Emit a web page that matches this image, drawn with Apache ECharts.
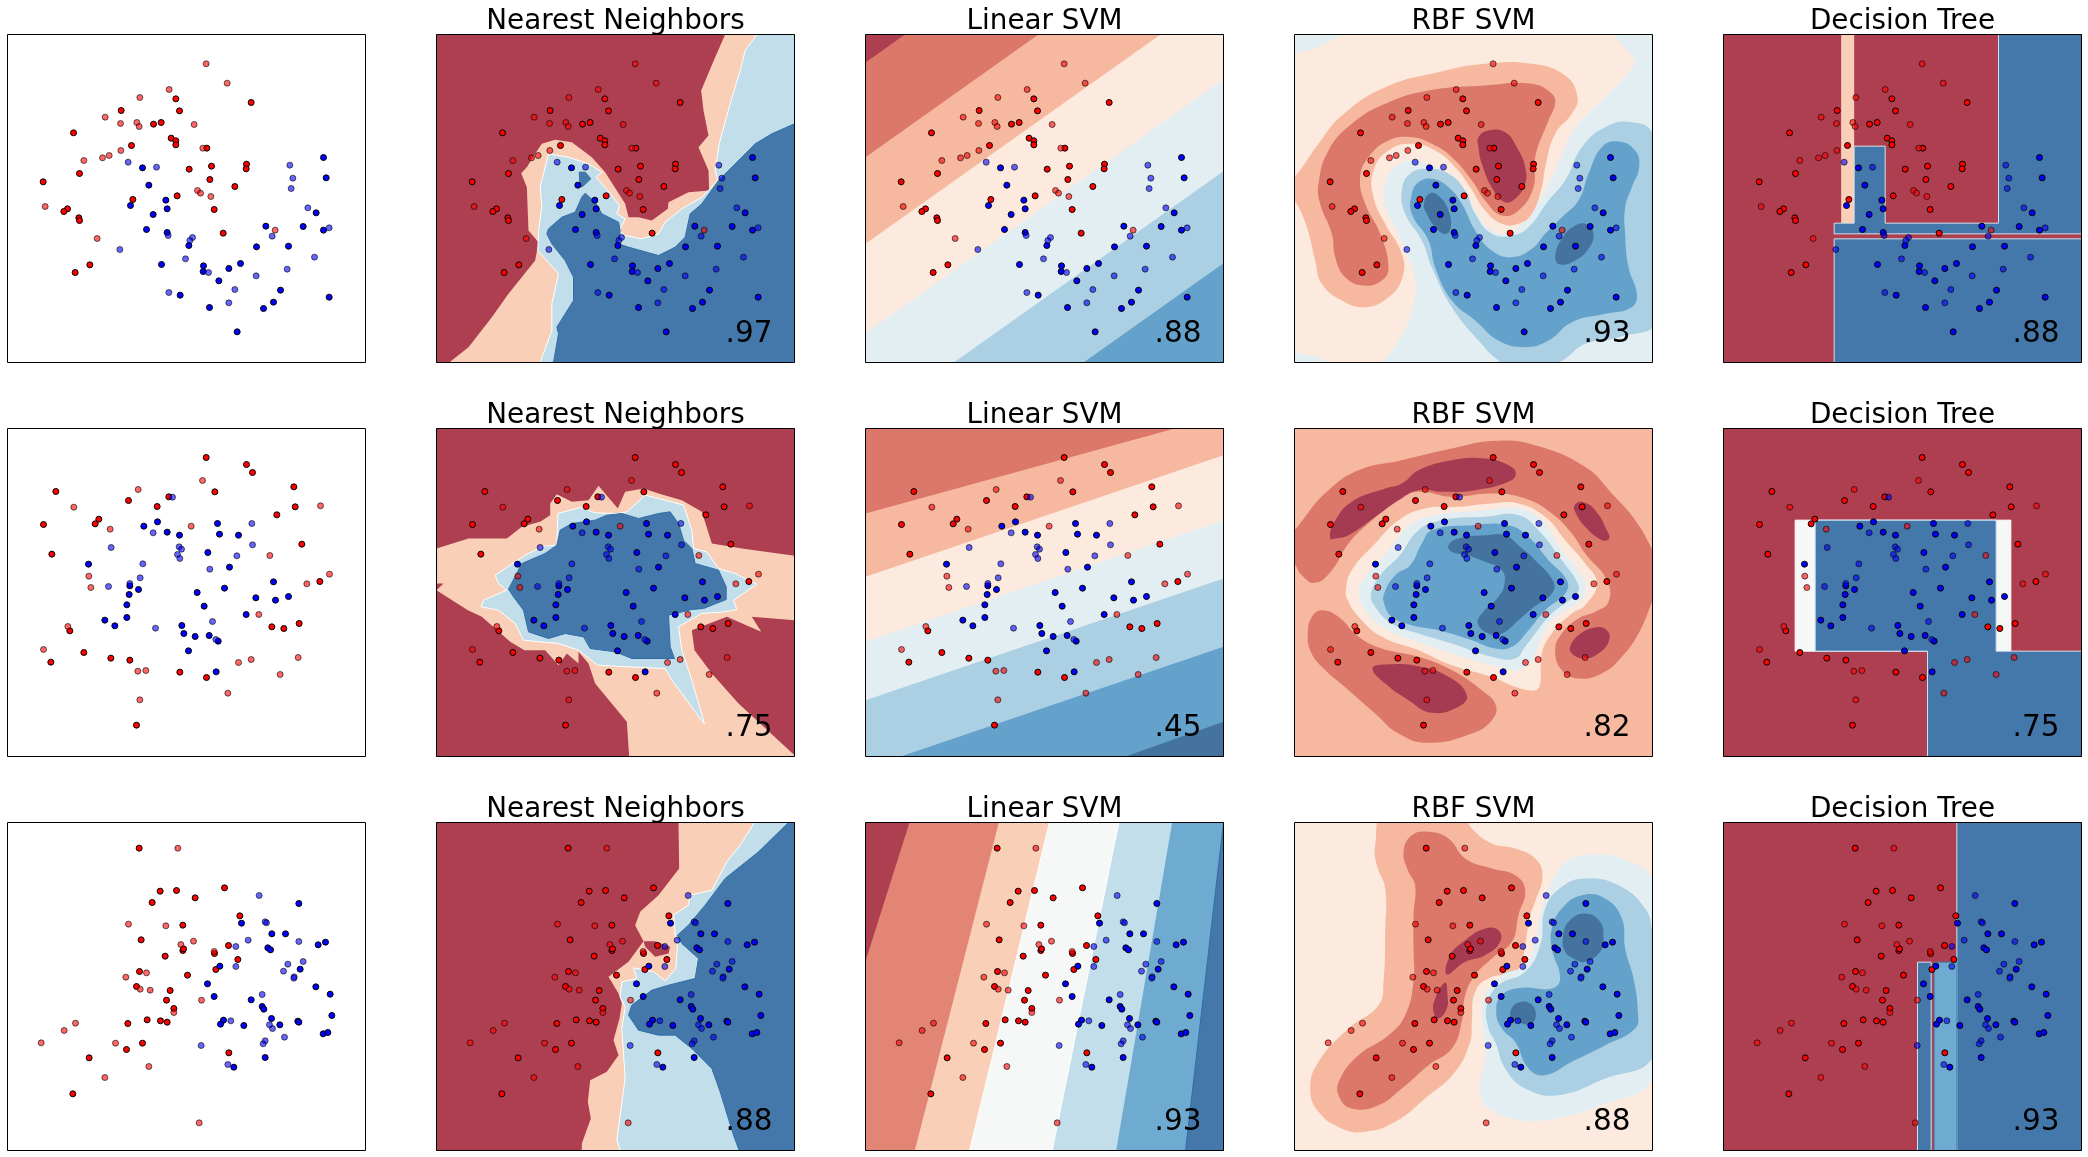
<!DOCTYPE html>
<html lang="en">
<head>
<meta charset="utf-8" />
<title>Classifier comparison</title>
<style>
  html, body { margin: 0; background: #fff; }
  #chart { width: 2088px; height: 1157px; }
</style>
</head>
<body>
<div id="chart"></div>
<script src="https://cdn.jsdelivr.net/npm/echarts@6/dist/echarts.min.js"></script>
<script>
const titles = ["Nearest Neighbors", "Linear SVM", "RBF SVM", "Decision Tree"];
const scores = [
  [".97", ".88", ".93", ".88"],
  [".75", ".45", ".82", ".75"],
  [".88", ".93", ".88", ".93"]
];

const redTrain = [
  [[505,193],[516,229],[731,204],[341,228],[438,269],[461,264],[198,295],[491,311],[505,319],[505,331],[372,333],[598,341],[717,389],[716,403],[612,395],[545,404],[216,417],[107,442],[607,435],[682,456],[509,484],[376,495],[180,523],[169,531],[620,525],[214,550],[216,558],[647,596],[247,691],[203,714]],
  [[596,87],[717,108],[735,132],[145,189],[859,175],[863,235],[622,190],[363,216],[484,205],[449,234],[808,259],[274,272],[263,286],[108,288],[883,347],[133,377],[937,459],[793,595],[829,600],[875,585],[187,607],[229,672],[310,689],[367,695],[130,701],[517,731],[597,747],[387,890]],
  [[395,77],[458,206],[507,204],[563,226],[651,196],[434,240],[697,280],[526,308],[401,352],[663,369],[526,384],[621,393],[473,401],[691,411],[625,441],[396,447],[540,458],[387,492],[488,504],[477,533],[499,558],[419,592],[459,595],[479,599],[361,603],[405,662],[357,681],[664,691],[245,706],[196,814],[528,379]]
];
const redTest = [
  [[596,88],[659,146],[485,165],[397,189],[293,248],[339,267],[388,264],[395,276],[560,270],[586,341],[340,348],[305,363],[285,370],[229,378],[570,468],[579,476],[610,486],[113,516],[269,612],[803,587]],
  [[585,156],[392,183],[199,236],[939,232],[308,302],[551,293],[787,381],[966,437],[898,466],[244,443],[250,477],[754,558],[181,594],[108,663],[693,702],[731,693],[872,687],[391,728],[415,726],[818,738],[661,794],[397,814]],
  [[511,77],[363,305],[475,310],[558,356],[520,366],[620,387],[417,451],[355,464],[398,500],[428,503],[582,533],[499,570],[204,602],[170,624],[101,661],[324,662],[424,732],[292,765],[575,901]]
];
const blueTrain = [
  [[948,369],[956,430],[405,400],[424,452],[475,497],[479,523],[369,513],[437,540],[926,535],[887,576],[948,587],[775,575],[417,585],[479,594],[544,633],[747,637],[843,635],[462,690],[699,687],[664,702],[588,694],[587,711],[634,739],[819,767],[518,782],[965,788],[798,803],[768,822],[606,819],[689,892]],
  [[409,293],[450,280],[479,311],[516,320],[630,285],[636,317],[693,320],[601,372],[243,407],[666,416],[798,460],[651,479],[569,492],[367,472],[393,483],[365,498],[358,529],[590,533],[745,508],[804,515],[843,504],[716,558],[358,567],[292,575],[322,592],[523,591],[529,615],[563,624],[605,621],[632,638],[543,667],[626,730]],
  [[874,243],[702,302],[793,334],[834,334],[932,367],[954,359],[781,376],[789,382],[637,431],[878,440],[600,484],[925,493],[620,522],[968,515],[731,532],[764,552],[769,560],[973,579],[792,588],[648,593],[639,605],[709,609],[817,607],[871,596],[874,599],[947,634],[961,630],[773,705],[679,734]]
];
const blueTest = [
  [[362,383],[447,398],[847,392],[856,431],[851,462],[901,520],[965,580],[482,603],[555,609],[547,618],[794,605],[337,645],[534,673],[921,668],[839,704],[603,714],[746,724],[682,765],[484,774],[664,805]],
  [[495,206],[437,313],[733,285],[311,357],[515,355],[522,362],[510,378],[517,390],[735,349],[688,382],[406,406],[607,422],[398,448],[367,465],[303,474],[615,579],[444,599],[625,633]],
  [[755,219],[773,298],[777,301],[722,353],[874,357],[685,372],[887,417],[841,425],[685,432],[828,446],[860,463],[859,467],[764,516],[670,595],[786,607],[795,618],[831,644],[773,655],[767,664],[581,669],[661,726]]
];

// decision regions, painted one over the other: [level, outline]
const whole = [[-20,-20],[1094,-20],[1094,1004],[-20,1004]];

const nnRegions1 = [
  ["red", whole],
  ["peach", [[866,0],[836,68],[794,168],[801,228],[816,303],[786,338],[816,408],[818,468],[756,473],[696,503],[694,523],[646,558],[606,548],[576,548],[566,508],[506,413],[466,368],[406,323],[356,316],[316,328],[296,358],[271,398],[254,416],[271,458],[276,588],[306,623],[296,678],[216,778],[166,848],[96,938],[38,984],[1074,984],[1074,0]]],
  ["sky", [[311,984],[346,888],[346,808],[366,718],[326,673],[304,648],[306,588],[316,518],[311,458],[336,358],[396,368],[456,388],[496,413],[479,428],[526,483],[549,513],[541,538],[566,553],[548,588],[566,603],[616,613],[666,598],[686,563],[736,523],[796,488],[844,438],[836,408],[848,328],[881,208],[911,108],[926,48],[961,0],[1074,0],[1074,984]]],
  ["blue", [[351,984],[366,898],[361,878],[411,798],[411,728],[386,678],[346,628],[331,598],[336,583],[376,548],[416,533],[436,488],[446,476],[476,503],[496,538],[546,563],[551,588],[546,628],[576,638],[666,663],[716,638],[746,608],[761,538],[796,508],[846,438],[956,328],[1006,298],[1074,268],[1074,984]]],
  ["blue", [[428,413],[446,413],[463,433],[436,458],[431,453]]]
];
const nnRegions2 = [
  ["red", whole],
  ["peach", [[0,360],[96,330],[211,330],[256,295],[311,280],[341,260],[341,225],[361,197],[406,220],[456,215],[486,172],[544,240],[566,190],[621,180],[666,195],[736,215],[796,250],[826,345],[916,360],[1074,382],[1074,575],[946,565],[974,610],[871,565],[766,605],[774,665],[826,735],[906,825],[1074,980],[1074,984],[578,984],[571,880],[476,765],[456,705],[426,670],[426,705],[391,675],[366,710],[326,665],[264,665],[221,640],[136,565],[94,545],[0,485],[21,465],[0,465]]],
  ["sky", [[176,440],[266,380],[321,353],[361,350],[364,255],[431,237],[476,253],[544,255],[571,250],[626,200],[686,215],[741,230],[766,305],[771,360],[811,370],[846,420],[896,435],[961,467],[891,515],[901,543],[866,550],[796,555],[726,595],[736,665],[766,755],[804,887],[706,755],[686,720],[571,715],[484,710],[426,665],[366,645],[311,640],[261,635],[236,585],[186,545],[134,535],[141,515],[211,485],[186,465]]],
  ["blue", [[216,482],[256,405],[326,375],[361,350],[371,305],[406,285],[476,275],[511,260],[556,255],[606,270],[666,255],[701,250],[726,285],[741,335],[766,360],[776,405],[846,425],[869,475],[869,513],[801,540],[766,543],[696,560],[701,655],[714,690],[586,690],[536,670],[461,660],[441,625],[386,615],[336,630],[276,610],[261,545],[231,505]]]
];
const nnRegions3 = [
  ["red", whole],
  ["peach", [[726,0],[728,138],[666,218],[611,268],[596,308],[621,356],[576,418],[516,463],[546,513],[556,543],[549,588],[531,653],[546,698],[511,748],[461,773],[454,838],[463,888],[436,963],[436,984],[1074,984],[1074,0]]],
  ["red", [[621,356],[656,356],[701,373],[696,393],[656,403],[626,373]]],
  ["sky", [[954,0],[911,68],[871,118],[826,203],[761,218],[756,248],[711,278],[716,338],[723,368],[718,438],[686,475],[651,448],[591,436],[601,468],[556,478],[551,523],[566,553],[556,618],[566,768],[541,953],[551,984],[1074,984],[1074,0]]],
  ["blue", [[1056,0],[966,88],[866,168],[806,248],[756,308],[723,338],[736,363],[786,408],[776,468],[696,488],[646,503],[586,548],[576,578],[606,623],[666,638],[716,638],[766,678],[826,738],[851,808],[891,938],[908,984],[1074,984],[1074,0]]]
];

const linearRegions1 = [
  ["red", whole],
  ["r3", [[0,84],[1074,-678],[1074,1400],[0,1400]]],
  ["r2", [[0,368],[1074,-394],[1074,1400],[0,1400]]],
  ["r1", [[0,628],[1074,-134],[1074,1400],[0,1400]]],
  ["b1", [[0,896],[1074,134],[1074,1400],[0,1400]]],
  ["b2", [[0,1172],[1074,410],[1074,1600],[0,1600]]],
  ["b3", [[0,1448],[1074,686],[1074,1800],[0,1800]]]
];
const linearRegions2 = [
  ["r3", whole],
  ["r2", [[0,255],[1074,-40],[1074,1400],[0,1400]]],
  ["r1", [[0,445],[1074,80],[1074,1400],[0,1400]]],
  ["b1", [[0,640],[1074,275],[1074,1400],[0,1400]]],
  ["b2", [[0,815],[1074,450],[1074,1400],[0,1400]]],
  ["b3", [[0,1020],[1074,655],[1074,1400],[0,1400]]],
  ["b4", [[0,1260],[1074,880],[1074,1400],[0,1400]]]
];
const linearRegions3 = [
  ["red", whole],
  ["r3soft", [[132,0],[-180,984],[1400,984],[1400,0]]],
  ["peach", [[400,0],[148,984],[1400,984],[1400,0]]],
  ["white", [[552,0],[312,984],[1400,984],[1400,0]]],
  ["sky", [[760,0],[560,984],[1400,984],[1400,0]]],
  ["b3soft", [[920,0],[752,984],[1400,984],[1400,0]]],
  ["blue", [[1074,0],[960,984],[1400,984],[1400,0]]]
];

const rbfRegions1 = [
  ["b1", whole],
  ["r1", [[0,73],[72,38],[137,3],[200,-40],[960,-40],[962,0],[1019,78],[1007,108],[932,188],[852,268],[812,338],[772,428],[722,518],[672,578],[647,598],[592,588],[542,528],[502,458],[462,418],[402,388],[342,378],[292,408],[270,458],[272,518],[307,588],[332,648],[360,728],[352,828],[312,918],[262,978],[200,990],[122,990],[72,968],[0,938],[-40,500]]],
  ["r2", [[0,428],[72,328],[142,243],[272,158],[432,113],[572,88],[712,88],[812,123],[849,188],[832,238],[782,298],[752,398],[742,458],[712,538],[672,568],[622,568],[572,528],[527,458],[482,398],[422,348],[352,328],[282,348],[237,408],[237,488],[272,568],[322,658],[324,728],[282,788],[212,818],[142,798],[82,748],[62,678],[37,578],[0,498],[-40,460]]],
  ["r3", [[72,448],[102,348],[172,268],[272,208],[402,168],[572,153],[712,148],[772,178],[782,208],[762,258],[722,368],[717,458],[672,528],[622,543],[572,498],[532,438],[472,368],[412,328],[352,308],[282,318],[222,368],[197,428],[212,508],[257,598],[282,698],[262,738],[207,753],[152,728],[122,668],[112,598],[77,508]]],
  ["r4", [[552,308],[582,288],[632,293],[667,338],[692,398],[692,448],[662,493],[632,503],[597,468],[562,388],[552,338]]],
  ["b2", [[1074,298],[1012,263],[932,278],[862,338],[812,438],[762,498],[702,578],[652,603],[592,598],[542,538],[512,468],[462,418],[402,403],[347,418],[322,468],[332,538],[382,618],[412,698],[472,818],[552,918],[612,978],[672,1010],[792,984],[872,928],[972,908],[1090,860],[1120,600]]],
  ["b3", [[922,338],[972,321],[1022,348],[1034,398],[1012,458],[992,518],[992,598],[1002,698],[1027,778],[1012,818],[932,838],[832,863],[762,918],[692,938],[612,918],[542,858],[472,798],[422,698],[402,618],[352,538],[352,478],[372,443],[412,433],[462,458],[502,508],[542,588],[592,648],[652,668],[712,643],[752,598],[802,548],[852,498],[882,418]]],
  ["b4", [[388,508],[407,476],[437,488],[462,528],[469,578],[452,598],[422,578],[397,538]]],
  ["b4", [[782,668],[802,613],[842,573],[877,570],[897,598],[882,643],[842,678],[797,690]]]
];
const rbfRegions2 = [
  ["r2", whole],
  ["r3", [[-28,365],[32,265],[102,185],[192,125],[322,95],[472,60],[602,37],[722,50],[872,115],[952,195],[1022,275],[1074,365],[1102,435],[1074,515],[1032,615],[982,685],[922,735],[852,750],[802,725],[782,665],[802,615],[852,570],[902,550],[942,520],[937,455],[872,375],[832,315],[772,255],[692,210],[592,195],[472,205],[372,190],[312,215],[222,285],[162,345],[112,425],[62,463],[22,440],[0,405]]],
  ["r3", [[40,615],[52,565],[82,545],[132,565],[192,625],[262,660],[372,685],[472,725],[562,785],[604,830],[592,875],[532,915],[402,943],[312,915],[242,855],[162,785],[82,715],[47,665]]],
  ["r4", [[107,330],[117,285],[172,220],[272,180],[322,165],[372,125],[472,95],[572,90],[642,110],[664,135],[642,160],[542,185],[442,190],[372,185],[312,215],[242,265],[162,320],[122,330]]],
  ["r4", [[840,230],[862,220],[902,245],[937,305],[944,330],[922,335],[872,295],[842,250]]],
  ["r4", [[827,655],[852,620],[902,597],[937,605],[944,635],[912,675],[867,690],[832,675]]],
  ["r4", [[234,720],[272,708],[372,713],[462,745],[517,800],[492,835],[412,853],[342,815],[272,765]]],
  ["r1", [[154,485],[172,425],[242,345],[312,275],[392,240],[492,235],[592,225],[672,225],[752,265],[812,335],[872,405],[907,465],[872,530],[832,555],[772,615],[742,675],[737,765],[722,785],[662,775],[592,745],[472,710],[372,665],[262,625],[192,565],[162,520]]],
  ["b1", [[194,485],[212,445],[282,365],[352,285],[422,260],[572,245],[672,240],[742,275],[802,365],[852,425],[875,485],[852,520],[772,575],[742,625],[712,695],[672,725],[612,715],[472,675],[372,640],[282,605],[212,545]]],
  ["b2", [[230,495],[262,435],[312,385],[372,305],[442,275],[572,265],[672,260],[732,305],[802,395],[850,465],[847,495],[772,555],[722,615],[692,655],[662,690],[592,685],[472,645],[372,615],[292,585],[242,535]]],
  ["b3", [[269,495],[302,440],[347,410],[382,345],[412,305],[532,290],[642,290],[702,325],[762,395],[817,455],[812,495],[752,545],[702,605],[652,655],[602,660],[532,635],[432,605],[352,590],[292,565],[269,525]]],
  ["b4", [[462,350],[492,330],[572,320],[632,320],[672,350],[722,395],[777,460],[772,495],[712,540],[672,575],[622,615],[582,615],[550,585],[562,555],[612,505],[630,465],[622,425],[572,400],[517,380],[472,370]]]
];
const rbfRegions3 = [
  ["r1", whole],
  ["r2", [[272,-30],[242,68],[247,128],[272,198],[272,328],[267,478],[252,548],[162,618],[72,718],[47,798],[72,868],[142,918],[212,928],[302,898],[392,828],[482,748],[527,658],[532,598],[542,508],[582,468],[662,448],[682,418],[692,368],[707,278],[722,238],[744,158],[722,108],[662,78],[592,63],[532,18],[500,-30]]],
  ["r3", [[327,88],[352,38],[402,28],[462,48],[512,108],[592,138],[662,158],[692,203],[672,278],[652,358],[592,408],[542,458],[512,518],[502,598],[472,678],[402,728],[322,798],[252,848],[172,858],[132,818],[137,768],[192,698],[282,638],[332,578],[357,478],[357,378],[357,278],[362,188],[342,148]]],
  ["r4", [[457,456],[467,398],[512,353],[572,318],[612,323],[617,358],[572,398],[512,418]]],
  ["r4", [[417,568],[422,528],[452,480],[459,518],[457,558],[432,588]]],
  ["b1", [[555,798],[572,698],[562,578],[572,518],[622,458],[692,428],[722,358],[742,258],[782,158],[832,108],[902,96],[982,108],[1074,173],[1120,480],[1074,768],[922,848],[752,893],[652,888],[572,848]]],
  ["b2", [[582,618],[577,548],[612,488],[692,448],[737,368],[752,258],[802,193],[872,168],[972,188],[1052,258],[1074,328],[1110,520],[1074,708],[932,768],[792,818],[692,798],[632,738],[602,658]]],
  ["b3", [[605,568],[622,518],[682,496],[772,498],[797,468],[772,378],[772,318],[802,258],[862,218],[932,228],[982,288],[992,378],[1017,468],[1030,568],[1022,618],[932,668],[832,718],[752,758],[702,738],[662,658],[622,618]]],
  ["b4", [[805,348],[822,298],[872,273],[917,298],[927,348],[917,388],[872,418],[837,408],[812,388]]],
  ["b4", [[649,563],[672,540],[707,543],[724,573],[712,603],[682,603],[652,588]]]
];

const treeRegions1 = [
  ["red", whole],
  ["peach", [[353,-20],[392,-20],[392,566],[353,566]]],
  ["tree", [[825,-20],[1100,-20],[1100,598],[332,598],[332,566],[392,566],[392,335],[485,335],[485,566],[825,566]]],
  ["tree", [[332,613],[1100,613],[1100,1010],[332,1010]]]
];
const treeRegions2 = [
  ["red", whole],
  ["white", [[215,275],[862,275],[862,668],[215,668]]],
  ["tree", [[275,275],[818,275],[818,668],[1100,668],[1100,1010],[612,1010],[612,668],[275,668]]]
];
const treeRegions3 = [
  ["red", whole],
  ["tree", [[700,-20],[1100,-20],[1100,1010],[700,1010]]],
  ["tree", [[582,419],[623,419],[623,1010],[582,1010]]],
  ["treeMid", [[632,419],[700,419],[700,1010],[632,1010]]]
];

const regionRows = [
  [nnRegions1, linearRegions1, rbfRegions1, treeRegions1],
  [nnRegions2, linearRegions2, rbfRegions2, treeRegions2],
  [nnRegions3, linearRegions3, rbfRegions3, treeRegions3]
];

const levelFill = {
  red: "#ae3f51", r4: "#a53b53", r3: "#db7869", r3soft: "#e28574", r2: "#f6b9a0",
  peach: "#f9cfb8", r1: "#fceadf", white: "#f6f8f8", b1: "#e3eef3", sky: "#c2deea",
  b2: "#abd0e3", b3: "#64a2cb", b3soft: "#6fabd1", b4: "#45739f", blue: "#4478ab",
  tree: "#4478ab", treeMid: "#6fabd1"
};
// thin seams that the filled contours leave between levels
const levelEdge = { sky: "#ffffff", blue: "#2f6fa8", tree: "#cfe3ee", treeMid: "#3f82b5", white: "#fff" };

const panelW = 1074, panelH = 984;
const gridW = 358, gridH = 328;
const gridLeft = c => 7.5 + 429 * c;
const gridTop = r => 34.5 + 394 * r;

const chartTitles = [], grids = [], xAxes = [], yAxes = [], series = [];

function regionSeries(layers, idx, smooth) {
  return {
    type: "custom", xAxisIndex: idx, yAxisIndex: idx, clip: true, silent: true, z: 1,
    data: layers.map((l, i) => [i]),
    renderItem: function (params, api) {
      const layer = layers[params.dataIndex];
      const edge = levelEdge[layer[0]];
      return {
        type: "polygon",
        shape: { points: layer[1].map(p => api.coord(p)), smooth: smooth },
        style: { fill: levelFill[layer[0]], stroke: edge || null, lineWidth: edge ? 1 : 0 }
      };
    }
  };
}

function pointSeries(points, idx, color, alpha) {
  return {
    type: "scatter", xAxisIndex: idx, yAxisIndex: idx, silent: true, z: 2,
    symbolSize: 6, data: points,
    itemStyle: { color: color, borderColor: "#000", borderWidth: 1, opacity: alpha }
  };
}

function frameSeries(idx) {
  return {
    type: "custom", xAxisIndex: idx, yAxisIndex: idx, clip: false, silent: true, z: 3,
    data: [[0, 0]],
    renderItem: function (params, api) {
      const a = api.coord([0, 0]), b = api.coord([panelW, panelH]);
      return {
        type: "rect",
        shape: { x: a[0], y: a[1], width: b[0] - a[0], height: b[1] - a[1] },
        style: { fill: "none", stroke: "#000", lineWidth: 1 }
      };
    }
  };
}

for (let r = 0; r < 3; r++) {
  for (let c = 0; c < 5; c++) {
    const idx = grids.length;
    grids.push({ left: gridLeft(c), top: gridTop(r), width: gridW, height: gridH });
    xAxes.push({ gridIndex: idx, type: "value", min: 0, max: panelW, show: false });
    yAxes.push({ gridIndex: idx, type: "value", min: 0, max: panelH, inverse: true, show: false });

    if (c > 0) {
      const smooth = c === 3 ? 0.45 : 0;
      series.push(regionSeries(regionRows[r][c - 1], idx, smooth));
      chartTitles.push({
        text: titles[c - 1], left: gridLeft(c) + gridW / 2, top: gridTop(r) - 27,
        textAlign: "center", padding: 0,
        textStyle: { fontFamily: "DejaVu Sans", fontSize: 27.8, fontWeight: "normal", color: "#000" }
      });
      chartTitles.push({
        text: scores[r][c - 1], left: gridLeft(c) + 336, top: gridTop(r) + 285,
        textAlign: "right", padding: 0,
        textStyle: { fontFamily: "DejaVu Sans", fontSize: 29.5, fontWeight: "normal", color: "#000" }
      });
    }
    series.push(pointSeries(redTrain[r], idx, "#ff0000", 1));
    series.push(pointSeries(blueTrain[r], idx, "#0000ff", 1));
    series.push(pointSeries(redTest[r], idx, "#ff0000", 0.6));
    series.push(pointSeries(blueTest[r], idx, "#0000ff", 0.6));
    series.push(frameSeries(idx));
  }
}

const myChart = echarts.init(document.getElementById("chart"));
myChart.setOption({
  animation: false,
  backgroundColor: "#fff",
  title: chartTitles,
  grid: grids,
  xAxis: xAxes,
  yAxis: yAxes,
  series: series
});
</script>
</body>
</html>
